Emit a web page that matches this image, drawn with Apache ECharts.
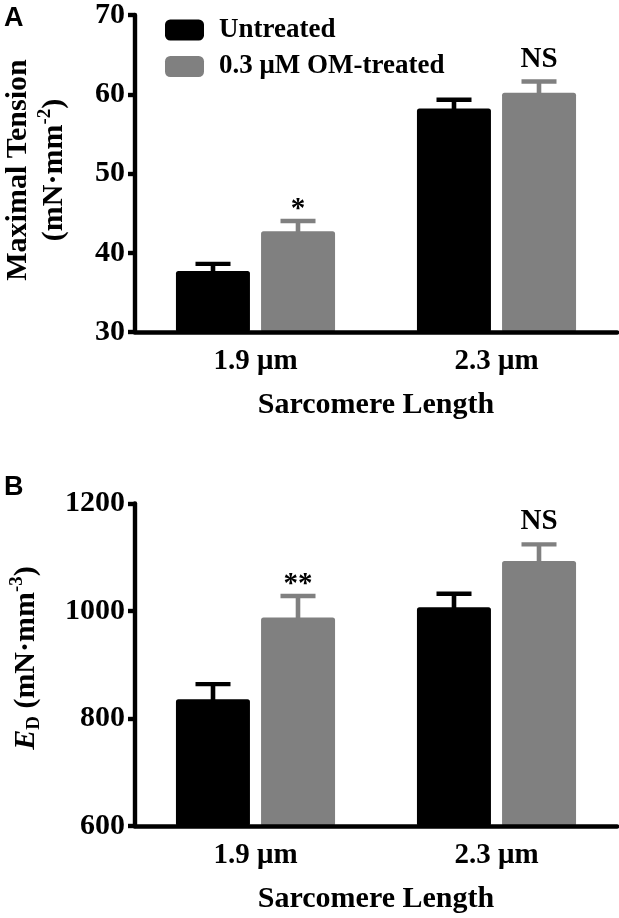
<!DOCTYPE html>
<html>
<head>
<meta charset="utf-8">
<script src="https://cdn.jsdelivr.net/npm/echarts@6/dist/echarts.min.js"></script>
<style>
html,body{margin:0;padding:0;background:#fff;}
#chart{width:619px;height:918px;}
</style>
</head>
<body>
<div id="chart"></div>
<script>
// ---- data ----
const categories = ['1.9 μm', '2.3 μm'];
const seriesNames = ['Untreated', '0.3 μM OM-treated'];

const tensionUntreated = [37.7, 58.2];
const tensionUntreatedErr = [0.9, 1.1];
const tensionTreated = [42.7, 60.2];
const tensionTreatedErr = [1.3, 1.4];
const tensionMarks = ['*', 'NS'];
const tensionRange = [30, 70];
const tensionStep = 10;

const edUntreated = [836, 1007];
const edUntreatedErr = [28, 25];
const edTreated = [988, 1093];
const edTreatedErr = [40, 31];
const edMarks = ['**', 'NS'];
const edRange = [600, 1200];
const edStep = 200;

// ---- styles ----
const SERIF = 'Liberation Serif, Times New Roman, serif';
const BLACK = '#000000';
const GRAY = '#808080';
const BAR_W = 74;
const HALF = 42.5;

const chart = echarts.init(document.getElementById('chart'), null, {renderer: 'canvas'});

function xAxisCfg(gi) {
  return {
    gridIndex: gi, type: 'category', data: categories, z: 10,
    axisLine: {lineStyle: {color: BLACK, width: 4.6}},
    axisTick: {alignWithLabel: true, length: 9, lineStyle: {color: BLACK, width: 4.6}},
    axisLabel: {margin: 15, color: BLACK, fontFamily: SERIF, fontWeight: 'bold', fontSize: 29},
    name: 'Sarcomere Length', nameLocation: 'middle', nameGap: 58,
    nameTextStyle: {color: BLACK, fontFamily: SERIF, fontWeight: 'bold', fontSize: 30}
  };
}
function yAxisCfg(gi, range, step) {
  return {
    gridIndex: gi, type: 'value', min: range[0], max: range[1], interval: step, z: 10,
    axisLine: {show: true, lineStyle: {color: BLACK, width: 4.4}},
    axisTick: {show: true, length: 7, lineStyle: {color: BLACK, width: 4.4}},
    splitLine: {show: false},
    axisLabel: {margin: 10, color: BLACK, fontFamily: SERIF, fontWeight: 'bold', fontSize: 30,
      formatter: function (v) { return String(v); }}
  };
}
function barSeries(name, values, color, gi) {
  return {
    type: 'bar', name: name, xAxisIndex: gi, yAxisIndex: gi,
    data: values, barWidth: BAR_W, barGap: '15%',
    itemStyle: {color: color, borderRadius: 2.5},
    z: 2
  };
}
function errSeries(values, errs, marks, offset, color, gi) {
  return {
    type: 'custom', xAxisIndex: gi, yAxisIndex: gi, z: 3,
    data: values.map((v, i) => [i, v, errs[i]]),
    renderItem: function (params, api) {
      const i = api.value(0);
      const v = api.value(1);
      const base = api.coord([i, v]);
      const top = api.coord([i, v + api.value(2)]);
      const x = base[0] + offset;
      const children = [
        {type: 'rect', shape: {x: x - 2.3, y: top[1], width: 4.6, height: base[1] - top[1] + 1}, style: {fill: color}},
        {type: 'rect', shape: {x: x - 17.5, y: top[1] - 2.2, width: 35, height: 4.4}, style: {fill: color}}
      ];
      const mark = marks ? marks[params.dataIndex] : '';
      if (mark) {
        children.push({
          type: 'text', x: x, y: top[1] - (mark.indexOf('*') >= 0 ? 11.5 : 22.5),
          style: {text: mark, fill: BLACK, font: 'bold 29px ' + SERIF, align: 'center', verticalAlign: 'middle'}
        });
      }
      return {type: 'group', children: children};
    }
  };
}

const titleRich = {
  m: {fontFamily: SERIF, fontWeight: 'bold', fontSize: 30, lineHeight: 36, fill: BLACK},
  i: {fontFamily: SERIF, fontWeight: 'bold', fontStyle: 'italic', fontSize: 30, lineHeight: 36, fill: BLACK},
  sup: {fontFamily: SERIF, fontWeight: 'bold', fontSize: 19, lineHeight: 19, verticalAlign: 'top', fill: BLACK},
  sub: {fontFamily: SERIF, fontWeight: 'bold', fontSize: 19, lineHeight: 19, verticalAlign: 'bottom', fill: BLACK}
};

const option = {
  backgroundColor: '#ffffff',
  animation: false,
  grid: [
    {left: 135, top: 14.5, width: 482, height: 317.5},
    {left: 135, top: 503.5, width: 482, height: 322.5}
  ],
  legend: {
    data: seriesNames, orient: 'vertical', left: 160, top: 11.5,
    itemWidth: 39, itemHeight: 21, itemGap: 9.5, icon: 'roundRect',
    textStyle: {color: BLACK, fontFamily: SERIF, fontWeight: 'bold', fontSize: 27, padding: [0, 0, 0, 10]}
  },
  xAxis: [xAxisCfg(0), xAxisCfg(1)],
  yAxis: [yAxisCfg(0, tensionRange, tensionStep), yAxisCfg(1, edRange, edStep)],
  series: [
    barSeries(seriesNames[0], tensionUntreated, BLACK, 0),
    barSeries(seriesNames[1], tensionTreated, GRAY, 0),
    barSeries(seriesNames[0], edUntreated, BLACK, 1),
    barSeries(seriesNames[1], edTreated, GRAY, 1),
    errSeries(tensionUntreated, tensionUntreatedErr, null, -HALF, BLACK, 0),
    errSeries(tensionTreated, tensionTreatedErr, tensionMarks, HALF, GRAY, 0),
    errSeries(edUntreated, edUntreatedErr, null, -HALF, BLACK, 1),
    errSeries(edTreated, edTreatedErr, edMarks, HALF, GRAY, 1)
  ],
  graphic: [
    {type: 'text', left: 4, top: 5, style: {text: 'A', fill: BLACK, font: 'bold 27px Liberation Sans, Arial, sans-serif'}},
    {type: 'text', left: 4, top: 474, style: {text: 'B', fill: BLACK, font: 'bold 27px Liberation Sans, Arial, sans-serif'}},
    {type: 'text', x: 36, y: 170, rotation: Math.PI / 2,
      style: {text: '{m|Maximal Tension}\n{m|(mN·mm}{sup|-2}{m|)}', align: 'center', verticalAlign: 'middle', rich: titleRich}},
    {type: 'text', x: 26, y: 658, rotation: Math.PI / 2,
      style: {text: '{i|E}{sub|D}{m| (mN·mm}{sup|-3}{m|)}', align: 'center', verticalAlign: 'middle', rich: titleRich}}
  ]
};
chart.setOption(option);
</script>
</body>
</html>
